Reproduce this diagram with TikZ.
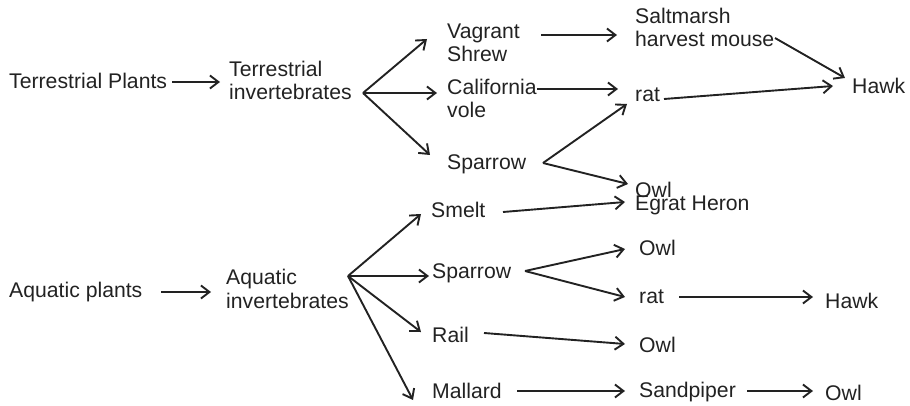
\documentclass[tikz,border=0pt]{standalone}
\usepackage{fontspec}
\setmainfont{Liberation Sans}
\usetikzlibrary{arrows.meta}
\definecolor{ink}{HTML}{222222}
\begin{document}
\begin{tikzpicture}[x=1pt,y=-1pt,
  lbl/.style={anchor=base west,inner sep=0pt,align=left,text=ink,
    font=\fontsize{21.2}{23.5}\selectfont},
  arr/.style={draw=ink,line width=1.9pt,
    -{Straight Barb[length=8.5pt,width=13pt,line width=1.9pt]}}]
\useasboundingbox (0,0) rectangle (910,406);
% nodes (multi-line nodes are placed by their last baseline)
\node[lbl] (tp)  at (9,89)    {Terrestrial Plants};
\node[lbl] (ti)  at (229,100) {Terrestrial\\invertebrates};
\node[lbl] (vs)  at (447,62)  {Vagrant\\Shrew};
\node[lbl] (cv)  at (447,118) {California\\vole};
\node[lbl] (sp1) at (447,170) {Sparrow};
\node[lbl] (sm)  at (635,47)  {Saltmarsh\\harvest mouse};
\node[lbl] (hk1) at (852,94)  {Hawk};
\node[lbl] (rt1) at (635,102) {rat};
\node[lbl] (ow1) at (635,197) {Owl};
\node[lbl] (eh)  at (635,211) {Egrat Heron};
\node[lbl] (smt) at (431,218) {Smelt};
\node[lbl] (ap)  at (9,297)   {Aquatic plants};
\node[lbl] (ai)  at (226,308) {Aquatic\\invertebrates};
\node[lbl] (sp2) at (432,278) {Sparrow};
\node[lbl] (rl)  at (432,342) {Rail};
\node[lbl] (ml)  at (432,398) {Mallard};
\node[lbl] (ow2) at (639,255) {Owl};
\node[lbl] (rt2) at (639,303) {rat};
\node[lbl] (hk2) at (825,308) {Hawk};
\node[lbl] (ow3) at (639,352) {Owl};
\node[lbl] (sd)  at (639,397) {Sandpiper};
\node[lbl] (ow4) at (825,400) {Owl};
% terrestrial chain
\draw[arr] ([shift={(163,-7)}]tp.base west) -- ([shift={(-9,-18)}]ti.base west);
\draw[arr] ([shift={(134,-7)}]ti.base west) -- ([shift={(-20,-23)}]vs.base west);
\draw[arr] ([shift={(134,-7)}]ti.base west) -- ([shift={(-10,-25)}]cv.base west);
\draw[arr] ([shift={(134,-7)}]ti.base west) -- ([shift={(-17,-15)}]sp1.base west);
\draw[arr] ([shift={(94,-27)}]vs.base west) -- ([shift={(-18,-12)}]sm.base west);
\draw[arr] ([shift={(140,-9)}]sm.base west) -- ([shift={(-7,-16)}]hk1.base west);
\draw[arr] ([shift={(90,-29)}]cv.base west) -- ([shift={(-17,-13)}]rt1.base west);
\draw[arr] ([shift={(29,-3)}]rt1.base west) -- ([shift={(-19,-8)}]hk1.base west);
\draw[arr] ([shift={(96,-7)}]sp1.base west) -- ([shift={(-8,2)}]rt1.base west);
\draw[arr] ([shift={(96,-7)}]sp1.base west) -- ([shift={(-7,-13)}]ow1.base west);
% aquatic chain
\draw[arr] ([shift={(72,-6)}]smt.base west) -- ([shift={(-10,-9)}]eh.base west);
\draw[arr] ([shift={(152,-5)}]ap.base west) -- ([shift={(-15,-16)}]ai.base west);
\draw[arr] ([shift={(122,-32)}]ai.base west) -- ([shift={(-10,-4)}]smt.base west);
\draw[arr] ([shift={(122,-32)}]ai.base west) -- ([shift={(-3,-2)}]sp2.base west);
\draw[arr] ([shift={(122,-32)}]ai.base west) -- ([shift={(-11,-10)}]rl.base west);
\draw[arr] ([shift={(122,-32)}]ai.base west) -- ([shift={(-19,2)}]ml.base west);
\draw[arr] ([shift={(93,-7)}]sp2.base west) -- ([shift={(-14,-6)}]ow2.base west);
\draw[arr] ([shift={(93,-7)}]sp2.base west) -- ([shift={(-14,-6)}]rt2.base west);
\draw[arr] ([shift={(40,-6)}]rt2.base west) -- ([shift={(-12,-11)}]hk2.base west);
\draw[arr] ([shift={(52,-9)}]rl.base west) -- ([shift={(-14,-8)}]ow3.base west);
\draw[arr] ([shift={(85,-7)}]ml.base west) -- ([shift={(-14,-6)}]sd.base west);
\draw[arr] ([shift={(108,-6)}]sd.base west) -- ([shift={(-12,-9)}]ow4.base west);
\end{tikzpicture}
\end{document}
